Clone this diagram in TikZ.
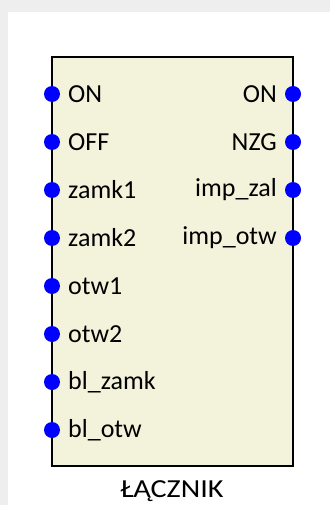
\documentclass[tikz,border=0pt]{standalone}
\usepackage{fontspec}
\setmainfont{Carlito}
\definecolor{boxfill}{RGB}{243,243,220}
\definecolor{frame}{RGB}{238,238,238}
\definecolor{portblue}{RGB}{0,0,255}
\begin{document}
\begin{tikzpicture}[x=1pt,y=-1pt,
  port/.style={circle,fill=portblue,inner sep=0pt,minimum size=16pt},
  lbl/.style={inner sep=0pt,font=\fontsize{26}{30}\selectfont},
  block/.style={draw=black,line width=2pt,fill=boxfill}]
\useasboundingbox (0,0) rectangle (330,505);
\fill[frame] (0,0) rectangle (330,505);
\fill[white] (8,12) rectangle (330,505);
\draw[block] (52,57) rectangle (293,466);
\node[lbl,anchor=base] (title) at (172,497.5) {\scalebox{1.16}[1]{ŁĄCZNIK}};
% left ports
\foreach \n/\t/\y in {l1/ON/94,l2/OFF/142,l3/zamk1/190,l4/zamk2/238,l5/otw1/286,l6/otw2/334,l7/bl\_zamk/382,l8/bl\_otw/430}{
  \node[port] (p\n) at (52,\y) {};
  \node[lbl,anchor=west] (t\n) at (68,\y) {\t};
}
% right ports
\foreach \n/\t/\y in {r1/ON/94,r2/NZG/142,r3/imp\_zal/190,r4/imp\_otw/238}{
  \node[port] (p\n) at (293,\y) {};
  \node[lbl,anchor=east] (t\n) at (277,\y) {\t};
}
\end{tikzpicture}
\end{document}
